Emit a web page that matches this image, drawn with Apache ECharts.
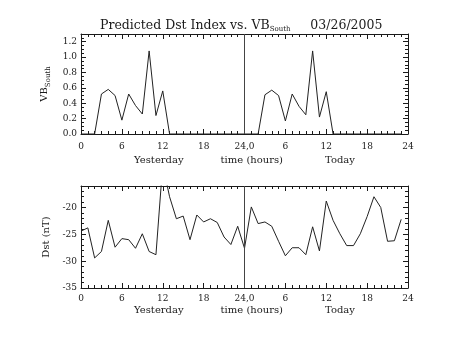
<!DOCTYPE html>
<html><head><meta charset="utf-8">
<script src="https://cdn.jsdelivr.net/npm/echarts@6/dist/echarts.min.js"></script>
<style>html,body{margin:0;padding:0;background:#fff}#c{width:453px;height:340px}</style>
</head><body><div id="c"></div>
<script>
const hours = [0,1,2,3,4,5,6,7,8,9,10,11,12,13,14,15,16,17,18,19,20,21,22,23];
const vbYesterday = [0,0,0,0.52,0.58,0.50,0.18,0.52,0.37,0.26,1.08,0.24,0.56,0,0,0,0,0,0,0,0,0,0,0];
const vbToday = [0,0,0,0.51,0.57,0.50,0.17,0.52,0.36,0.25,1.08,0.22,0.55,0,0,0,0,0,0,0,0,0,0,0];
const dstYesterday = [-24.4,-23.8,-29.4,-28.2,-22.4,-27.4,-25.8,-26.0,-27.6,-24.9,-28.2,-28.8,-12.0,-18.0,-22.1,-21.6,-26.0,-21.4,-22.7,-22.1,-22.8,-25.5,-26.9,-23.5];
const dstToday = [-27.6,-19.9,-23.0,-22.7,-23.5,-26.3,-29.0,-27.5,-27.5,-28.8,-23.6,-28.1,-18.8,-22.4,-24.9,-27.1,-27.1,-24.9,-21.7,-18.0,-20.0,-26.3,-26.2,-22.2];
const xTickLabels = {0:'0',6:'6',12:'12',18:'18',24:'24,0',30:'6',36:'12',42:'18',48:'24'};
const titleMain = 'Predicted Dst Index vs. VB';
const titleSub = 'South';
const titleDate = '03/26/2005';
const xTitleLeft = 'Yesterday', xTitleMid = 'time (hours)', xTitleRight = 'Today';

const FONT = 'DejaVu Serif';
const INK = '#1a1a1a';
function join(y, t){ const d=[]; hours.forEach((h,i)=>d.push([h,y[i]])); hours.forEach((h,i)=>d.push([h+24,t[i]])); return d; }

function xAx(grid, pos, labels, margin, nameGap){
  return {type:'value', gridIndex:grid, position:pos, min:0, max:48, interval:6,
    axisLine:{show:true, onZero:false, lineStyle:{color:INK,width:1}},
    axisTick:{show:true, inside:true, length:5, lineStyle:{color:INK}},
    minorTick:{show:true, splitNumber:6, length:3, lineStyle:{color:INK}},
    splitLine:{show:false},
    axisLabel:{show:labels, margin:margin||8, fontFamily:FONT, fontSize:9, color:INK,
      formatter:v=>xTickLabels[v]!==undefined?xTickLabels[v]:''},
    name: labels ? '{a|'+xTitleLeft+'}{g1|}{a|'+xTitleMid+'}{g2|}{a|'+xTitleRight+'}' : '',
    nameLocation:'middle', nameGap:nameGap||20,
    nameTextStyle:{rich:{a:{fontFamily:FONT,fontSize:10,color:INK},g1:{width:37},g2:{width:42}}}
  };
}
function yAx(grid, pos, labels, min, max, interval, split, name, fmt, nameGap){
  return {type:'value', gridIndex:grid, position:pos, min:min, max:max, interval:interval,
    axisLine:{show:true, onZero:false, lineStyle:{color:INK,width:1}},
    axisTick:{show:true, inside:true, length:5, lineStyle:{color:INK}},
    minorTick:{show:true, splitNumber:split, length:3, lineStyle:{color:INK}},
    splitLine:{show:false},
    axisLabel:{show:labels, margin:4, fontFamily:FONT, fontSize:9, color:INK, showMaxLabel:false, formatter:fmt},
    name: labels?name:'', nameLocation:'middle', nameRotate:90, nameGap:nameGap||24,
    nameTextStyle:{fontFamily:FONT,fontSize:10,color:INK,
      rich:{a:{fontFamily:FONT,fontSize:10,color:INK,verticalAlign:'top',lineHeight:12},
            s:{fontFamily:FONT,fontSize:7,color:INK,verticalAlign:'bottom',lineHeight:7,padding:[9,0,0,0]}}}
  };
}
const chart = echarts.init(document.getElementById('c'), null, {renderer:'canvas'});
const vline = {silent:true, symbol:['none','none'], label:{show:false}, lineStyle:{color:'#444',type:'solid',width:1}, data:[{xAxis:24}]};
chart.setOption({
  animation:false,
  backgroundColor:'#fff',
  title:{text:'{a|'+titleMain+'}{s|'+titleSub+'}{a|     '+titleDate+'}', left:100, top:19, padding:0,
    textStyle:{fontWeight:'normal',rich:{a:{fontFamily:FONT,fontSize:12.5,fontWeight:'normal',color:INK,verticalAlign:'top',lineHeight:14},
                     s:{fontFamily:FONT,fontSize:7,fontWeight:'normal',color:INK,verticalAlign:'bottom',lineHeight:7,padding:[11,0,0,0]}}}},
  grid:[{left:81,top:34,width:327,height:100},{left:81,top:186,width:327,height:102}],
  xAxis:[xAx(0,'bottom',true,8,20),xAx(0,'top',false),xAx(1,'bottom',true,6,16),xAx(1,'top',false)],
  yAxis:[yAx(0,'left',true,0,1.3,0.2,4,'{a|VB}{s|South}',v=>v.toFixed(1),17),yAx(0,'right',false,0,1.3,0.2,4,'',null),
         yAx(1,'left',true,-35,-16,5,5,'Dst (nT)',v=>String(v),21),yAx(1,'right',false,-35,-16,5,5,'',null)],
  series:[
    {type:'line', xAxisIndex:0, yAxisIndex:0, data:join(vbYesterday,vbToday), symbol:'none', clip:true,
     lineStyle:{color:'#222',width:1}, markLine:vline},
    {type:'line', xAxisIndex:2, yAxisIndex:2, data:join(dstYesterday,dstToday), symbol:'none', clip:true,
     lineStyle:{color:'#222',width:1}, markLine:vline}
  ]
});
</script></body></html>
